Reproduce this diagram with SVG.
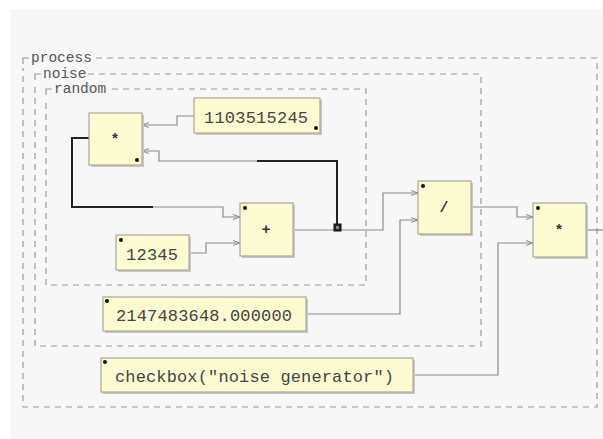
<svg xmlns="http://www.w3.org/2000/svg" width="603" height="439" viewBox="0 0 603 439">
<style>
.grp{fill:none;stroke:#9a9a9a;stroke-width:1.2;stroke-dasharray:6,5}
.corner{fill:none;stroke:#9a9a9a;stroke-width:1.2}
.glabel{font-family:"Liberation Mono","DejaVu Sans Mono",monospace;font-size:14.5px;fill:#555}
.box{fill:#fdfbd2;stroke:#a8a898;stroke-width:1.2}
.shadow{fill:#c8c8c0}
.txt{font-family:"Liberation Mono","DejaVu Sans Mono",monospace;font-size:17px;fill:#444}
.op{font-family:"Liberation Mono","DejaVu Sans Mono",monospace;font-size:15px;font-weight:bold;fill:#333;text-anchor:middle}
.dot{fill:#111}
.wire{fill:none;stroke:#8a8a8a;stroke-width:1.2}
.wdark{fill:none;stroke:#222;stroke-width:2}
</style>
<defs>
<marker id="arr" markerWidth="8" markerHeight="6" refX="7" refY="3" orient="auto" markerUnits="userSpaceOnUse">
<path d="M0,0.5 L7,3 L0,5.5" fill="none" stroke="#8a8a8a" stroke-width="1"/>
</marker>
</defs>
<rect x="0" y="0" width="603" height="439" fill="#ffffff"/>
<rect x="10" y="9" width="593" height="430" fill="#f7f7f7"/>

<g id="process">
<path class="corner" d="M23,64 V58 H29"/>
<text class="glabel" x="31" y="62">process</text>
<path class="grp" d="M96,58 H597 V407 H23 V68"/>
</g>
<g id="noise">
<path class="corner" d="M35,80 V74 H41"/>
<text class="glabel" x="43" y="78">noise</text>
<path class="grp" d="M88,74 H481 V346 H35 V84"/>
</g>
<g id="random">
<path class="corner" d="M46,95 V89 H52"/>
<text class="glabel" x="54" y="93">random</text>
<path class="grp" d="M112,89 H366 V285 H46 V99"/>
</g>

<g id="connectors">
<path class="wire" d="M194,116 H177 V125 H142" marker-end="url(#arr)"/>
<path class="wire" d="M257,161 H159 V151 H142" marker-end="url(#arr)"/>
<path class="wdark" d="M337,227 V161 H257"/>
<path class="wdark" d="M89,138 H72 V207 H153"/>
<path class="wire" d="M153,207 H223 V217 H240" marker-end="url(#arr)"/>
<path class="wire" d="M189,253 H206 V243 H240" marker-end="url(#arr)"/>
<path class="wire" d="M293,230 H383 V193 H418" marker-end="url(#arr)"/>
<path class="wire" d="M306,314 H400 V220 H418" marker-end="url(#arr)"/>
<path class="wire" d="M471,207 H517 V217 H533" marker-end="url(#arr)"/>
<path class="wire" d="M413,375 H498 V243 H533" marker-end="url(#arr)"/>
<path class="wire" d="M586,230 H603"/>
<rect x="334" y="224" width="7" height="7" fill="#222" stroke="#111" stroke-width="1"/>
<rect x="336" y="226" width="3" height="3" fill="#888"/>
</g>

<g id="mul1">
<rect class="shadow" x="91" y="115" width="53" height="52"/>
<rect class="box" x="89" y="113" width="53" height="52"/>
<text class="op" x="115" y="144">*</text>
<circle class="dot" cx="137" cy="160" r="2"/>
</g>
<g id="const1103515245">
<rect class="shadow" x="196" y="100" width="126" height="35"/>
<rect class="box" x="194" y="98" width="126" height="35"/>
<text class="txt" x="204" y="123" textLength="104">1103515245</text>
<circle class="dot" cx="316" cy="128" r="2"/>
</g>
<g id="add">
<rect class="shadow" x="242" y="205" width="53" height="53"/>
<rect class="box" x="240" y="203" width="53" height="53"/>
<text class="op" x="266" y="234">+</text>
<circle class="dot" cx="245" cy="208" r="2"/>
</g>
<g id="const12345">
<rect class="shadow" x="118" y="237" width="73" height="35"/>
<rect class="box" x="116" y="235" width="73" height="35"/>
<text class="txt" x="126" y="260" textLength="52">12345</text>
<circle class="dot" cx="121" cy="240" r="2"/>
</g>
<g id="div">
<rect class="shadow" x="420" y="183" width="53" height="53"/>
<rect class="box" x="418" y="181" width="53" height="53"/>
<text class="op" x="444" y="212">/</text>
<circle class="dot" cx="423" cy="186" r="2"/>
</g>
<g id="mul2">
<rect class="shadow" x="535" y="205" width="53" height="54"/>
<rect class="box" x="533" y="203" width="53" height="54"/>
<text class="op" x="559" y="235">*</text>
<circle class="dot" cx="538" cy="208" r="2"/>
</g>
<g id="const2147483648">
<rect class="shadow" x="105" y="299" width="203" height="34"/>
<rect class="box" x="103" y="297" width="203" height="34"/>
<text class="txt" x="116" y="321" textLength="176">2147483648.000000</text>
<circle class="dot" cx="107" cy="301" r="2"/>
</g>
<g id="checkbox">
<rect class="shadow" x="103" y="360" width="312" height="34"/>
<rect class="box" x="101" y="358" width="312" height="34"/>
<text class="txt" x="115" y="382" textLength="279">checkbox("noise generator")</text>
<circle class="dot" cx="105" cy="362" r="2"/>
</g>
</svg>
